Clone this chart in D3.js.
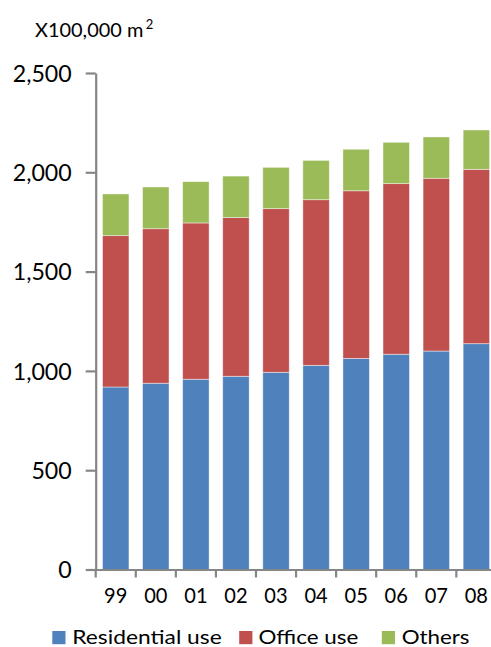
<!DOCTYPE html>
<html><head><meta charset="utf-8">
<script src="https://cdn.jsdelivr.net/npm/d3@7"></script>
<style>
html,body{margin:0;padding:0;background:#fff;}
svg{display:block;font-family:Carlito,Lato,"Open Sans",sans-serif;}
</style></head>
<body>
<svg id="chart" width="491" height="647"></svg>
<script>
const years = ["99","00","01","02","03","04","05","06","07","08"];
const residential = [919, 938, 958, 973, 993, 1028, 1063, 1084, 1100, 1137];
const office = [762, 778, 787, 799, 824, 834, 844, 859, 870, 878];
const others = [210, 210, 208, 209, 208, 198, 209, 208, 208, 198];
const seriesNames = ["Residential use","Office use","Others"];
const seriesColors = ["#4F81BD","#C0504D","#9BBB59"];
const yTicks = [0, 500, 1000, 1500, 2000, 2500];

const svg = d3.select("#chart");
const FONT = "Lato,'Open Sans',sans-serif";
const x = d3.scaleBand().domain(years).range([95.7, 496.4]).paddingInner(0.34).paddingOuter(0.17);
const y = d3.scaleLinear().domain([0, 2500]).range([569.5, 73]);

// stretch text horizontally by a factor so glyph widths match the reference
function stretch(sel, factor) {
  sel.each(function() {
    const w = this.getComputedTextLength();
    d3.select(this).attr("textLength", w * factor).attr("lengthAdjust", "spacingAndGlyphs");
  });
}

const table = years.map((yr, i) => ({year: yr, "Residential use": residential[i], "Office use": office[i], "Others": others[i]}));
const stacked = d3.stack().keys(seriesNames)(table);

svg.append("g").selectAll("g").data(stacked).join("g")
  .attr("fill", (d, i) => seriesColors[i])
  .selectAll("rect").data(d => d).join("rect")
  .attr("x", d => x(d.data.year))
  .attr("width", x.bandwidth())
  .attr("y", d => y(d[1]))
  .attr("height", d => y(d[0]) - y(d[1]))
  .attr("stroke", "#ffffff").attr("stroke-opacity", 0.55).attr("stroke-width", 0.8);

// Y axis
const yAxis = svg.append("g").attr("transform", "translate(95.7,0)")
  .call(d3.axisLeft(y).tickValues(yTicks).tickSize(10).tickSizeOuter(0).tickPadding(14).tickFormat(d3.format(",")));
yAxis.select(".domain").attr("stroke", "#868686").attr("stroke-width", 2.2);
yAxis.selectAll(".tick line").attr("stroke", "#868686").attr("stroke-width", 2.2);
const yLabels = yAxis.selectAll(".tick text").attr("font-size", 23).attr("fill", "#000").attr("font-family", FONT).attr("dy", "0.36em");
let yNat = 0; yLabels.each(function(d) { if (d === 2500) yNat = this.getComputedTextLength(); });
stretch(yLabels, 59 / yNat);

// X axis
const xAxis = svg.append("g").attr("transform", "translate(0,569.5)")
  .call(d3.axisBottom(x).tickSize(0).tickPadding(0).tickSizeOuter(0));
xAxis.select(".domain").attr("stroke", "#868686").attr("stroke-width", 2.2);
const xLabels = xAxis.selectAll(".tick text").attr("font-size", 21).attr("fill", "#000").attr("font-family", FONT)
  .attr("dy", 0).attr("y", 33.2);
let xNat = 0; xLabels.each(function(d) { if (d === "99") xNat = this.getComputedTextLength(); });
stretch(xLabels, 23.3 / xNat);
const bounds = years.map(yr => x(yr) - x.step() * x.paddingInner() / 2);
bounds.push(x(years[years.length - 1]) + x.bandwidth() + x.step() * x.paddingInner() / 2);
xAxis.selectAll("line.bt").data(bounds).join("line").attr("class", "bt")
  .attr("x1", d => d).attr("x2", d => d).attr("y1", 0).attr("y2", 8)
  .attr("stroke", "#868686").attr("stroke-width", 2.2);

// Unit label
const unit = svg.append("text").attr("x", 35).attr("y", 36.7).attr("font-size", 20).attr("fill", "#000").attr("font-family", FONT).text("X100,000 m");
unit.attr("textLength", 108.3).attr("lengthAdjust", "spacingAndGlyphs");
svg.append("text").attr("x", 145.7).attr("y", 29.3).attr("font-size", 13).attr("fill", "#000").attr("font-family", FONT).text("2");

// Legend
const legendSq = [52.3, 239.2, 381.8];
const legendTx = [72.3, 258.5, 401.7];
const legendW = [149.4, 99.8, 67.8];
const legend = svg.append("g");
legend.selectAll("rect").data(seriesNames).join("rect")
  .attr("x", (d, i) => legendSq[i]).attr("y", 631).attr("width", 13.2).attr("height", 13.2)
  .attr("fill", (d, i) => seriesColors[i]);
legend.selectAll("text").data(seriesNames).join("text")
  .attr("x", (d, i) => legendTx[i]).attr("y", 644.3).attr("font-size", 20).attr("fill", "#000").attr("font-family", FONT)
  .attr("textLength", (d, i) => legendW[i]).attr("lengthAdjust", "spacingAndGlyphs")
  .text(d => d);
</script>
</body></html>
